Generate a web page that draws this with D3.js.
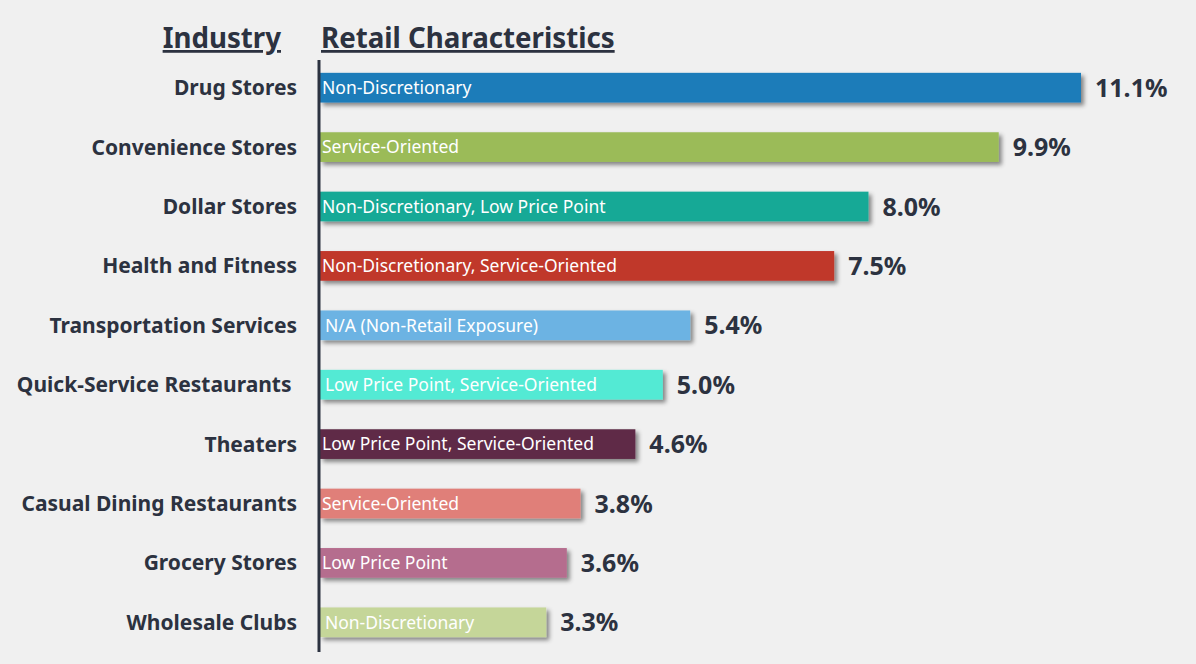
<!DOCTYPE html>
<html>
<head>
<meta charset="utf-8">
<script src="https://cdn.jsdelivr.net/npm/d3@7"></script>
<style>
  body { margin: 0; background: #f0f0f0; }
  svg { display: block; font-family: "Noto Sans", "Open Sans", sans-serif; }
</style>
</head>
<body>
<div id="chart"></div>
<script>
const industries = ["Drug Stores", "Convenience Stores", "Dollar Stores", "Health and Fitness",
  "Transportation Services", "Quick-Service Restaurants\u00a0", "Theaters",
  "Casual Dining Restaurants", "Grocery Stores", "Wholesale Clubs"];
const shares = [11.1, 9.9, 8.0, 7.5, 5.4, 5.0, 4.6, 3.8, 3.6, 3.3];
const characteristics = ["Non-Discretionary", "Service-Oriented", "Non-Discretionary, Low Price Point",
  "Non-Discretionary, Service-Oriented", "\u2009N/A (Non-Retail Exposure)",
  "\u2009Low Price Point, Service-Oriented", "Low Price Point, Service-Oriented",
  "Service-Oriented", "Low Price Point", "\u2009Non-Discretionary"];
const colors = ["#1f7bb9", "#9bbb59", "#16a996", "#c0372b", "#6cb3e3",
  "#52ead4", "#5e2c47", "#e07f79", "#b56d8e", "#c5d699"];

const width = 1196, height = 664;
const x0 = 320;

const svg = d3.select("#chart").append("svg")
  .attr("width", width)
  .attr("height", height);

const defs = svg.append("defs");
defs.append("filter").attr("id", "shadow")
  .attr("x", "-5%").attr("y", "-30%").attr("width", "115%").attr("height", "180%")
  .append("feDropShadow")
  .attr("dx", 3).attr("dy", 3).attr("stdDeviation", 2)
  .attr("flood-color", "#000").attr("flood-opacity", 0.45);

const x = d3.scaleLinear().domain([0, 11.1]).range([x0, 1081]);
const y = d3.scaleBand().domain(d3.range(industries.length))
  .range([58, 652]).paddingInner(0.5).paddingOuter(0.25);

// headers
svg.append("text")
  .attr("x", 281).attr("y", 48)
  .attr("text-anchor", "end")
  .attr("font-size", 27.7).attr("font-weight", "bold")
  .attr("fill", "#2c3240")
  .attr("text-decoration", "underline")
  .text("Industry");
svg.append("text")
  .attr("x", 321).attr("y", 48)
  .attr("font-size", 27.7).attr("font-weight", "bold")
  .attr("fill", "#2c3240")
  .attr("text-decoration", "underline")
  .text("Retail Characteristics");

const rows = svg.append("g").selectAll("g")
  .data(shares)
  .join("g");

rows.append("rect")
  .attr("x", x0)
  .attr("y", (d, i) => y(i))
  .attr("width", d => x(d) - x0)
  .attr("height", y.bandwidth())
  .attr("fill", (d, i) => colors[i])
  .attr("filter", "url(#shadow)");

rows.append("text")
  .attr("x", x0 + 2)
  .attr("y", (d, i) => y(i) + y.bandwidth() / 2)
  .attr("dy", "0.36em")
  .attr("font-size", 17.5)
  .attr("fill", "#fff")
  .style("white-space", "pre")
  .text((d, i) => characteristics[i]);

rows.append("text")
  .attr("x", d => x(d) + 14)
  .attr("y", (d, i) => y(i) + y.bandwidth() / 2)
  .attr("dy", "0.36em")
  .attr("font-size", 25)
  .attr("font-weight", "bold")
  .attr("fill", "#2c3240")
  .text(d => d.toFixed(1) + "%");

rows.append("text")
  .attr("x", 297)
  .attr("y", (d, i) => y(i) + y.bandwidth() / 2)
  .attr("dy", "0.36em")
  .attr("text-anchor", "end")
  .attr("font-size", 21)
  .attr("font-weight", "bold")
  .attr("fill", "#2c3240")
  .style("white-space", "pre")
  .text((d, i) => industries[i]);

// axis line
svg.append("line")
  .attr("x1", 319).attr("x2", 319)
  .attr("y1", 60).attr("y2", 652)
  .attr("stroke", "#2c3240").attr("stroke-width", 3);
</script>
</body>
</html>
